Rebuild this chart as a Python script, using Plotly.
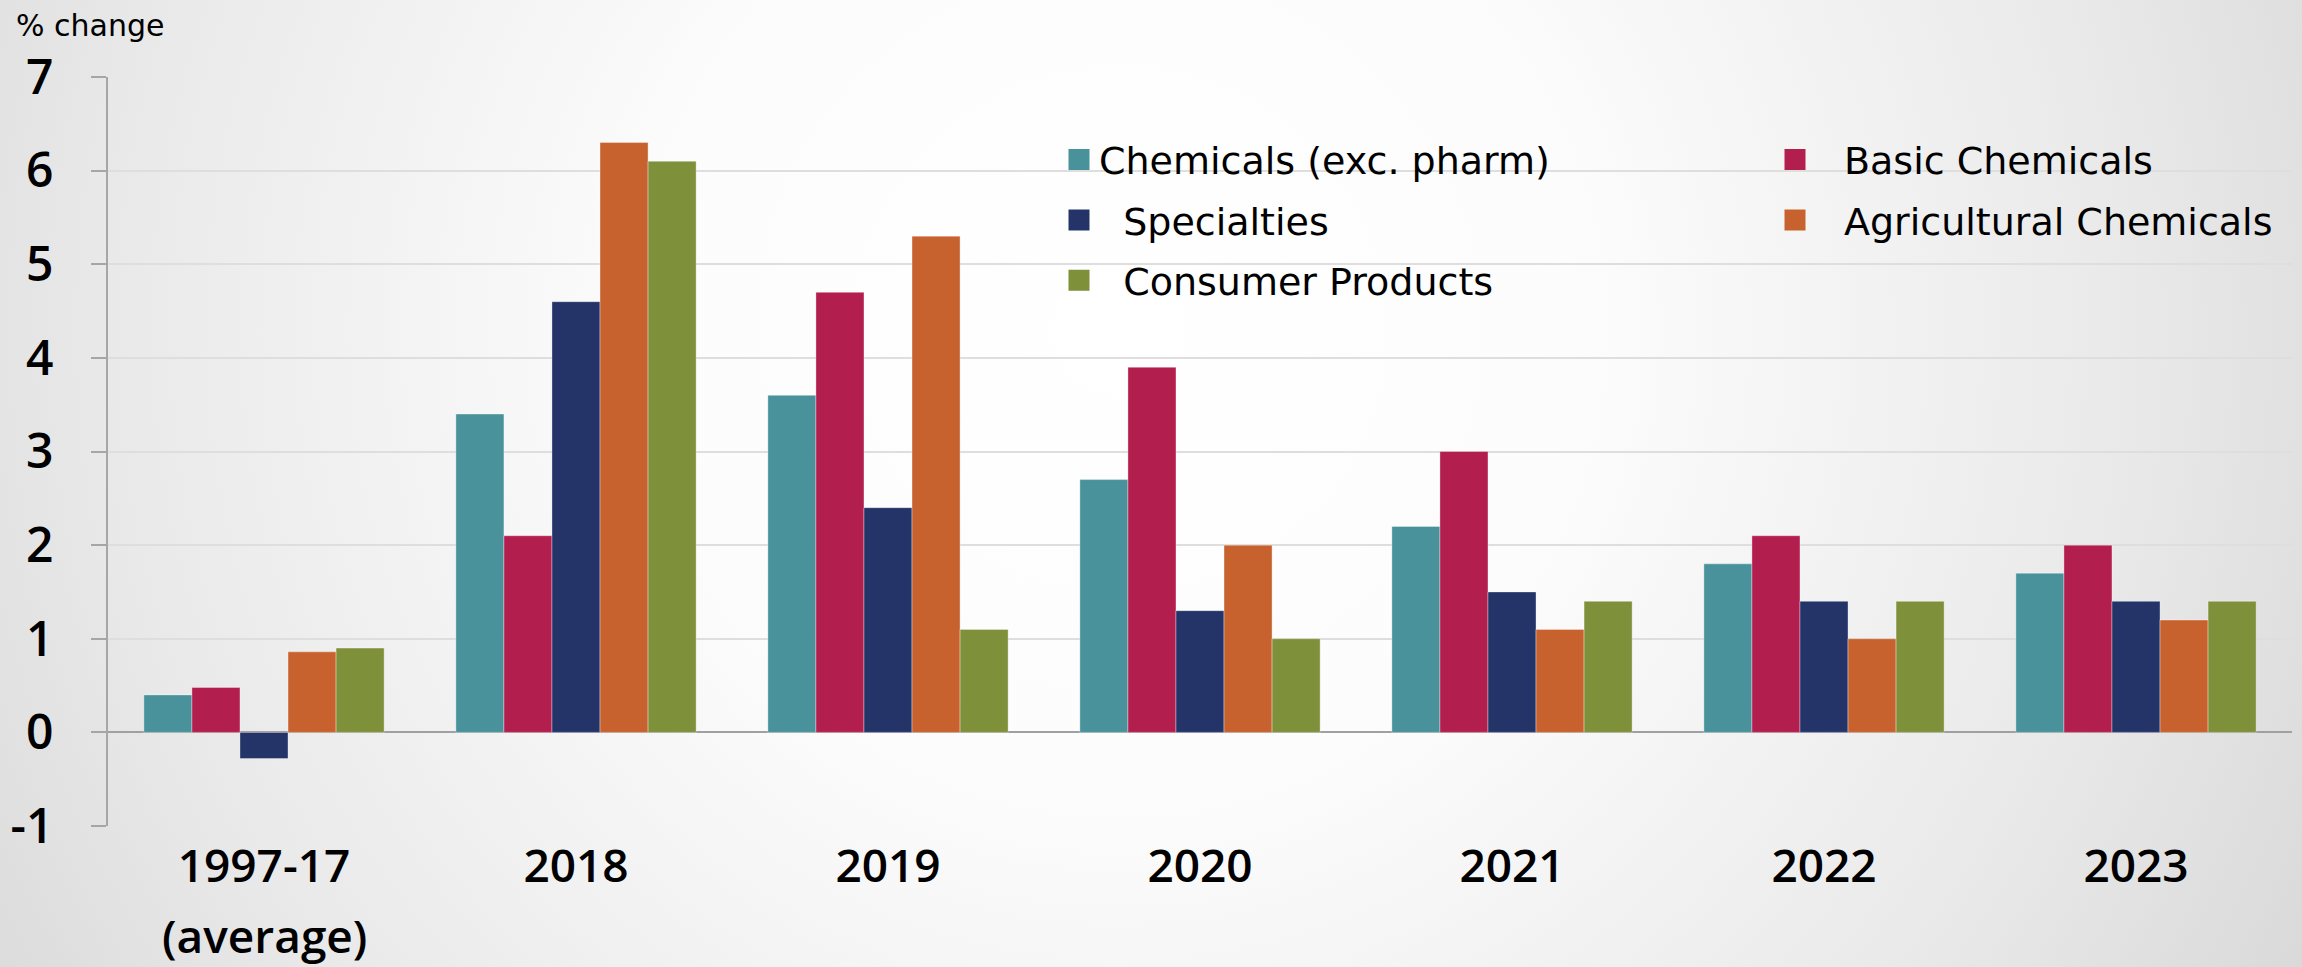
import base64
import plotly.graph_objects as go

# Categories and growth rates (% change)
categories = ["1997-17", "2018", "2019", "2020", "2021", "2022", "2023"]
first_category_note = "(average)"
chemicals_exc_pharm = [0.40, 3.4, 3.6, 2.7, 2.2, 1.8, 1.7]
basic_chemicals = [0.48, 2.1, 4.7, 3.9, 3.0, 2.1, 2.0]
specialties = [-0.28, 4.6, 2.4, 1.3, 1.5, 1.4, 1.4]
agricultural_chemicals = [0.86, 6.3, 5.3, 2.0, 1.1, 1.0, 1.2]
consumer_products = [0.90, 6.1, 1.1, 1.0, 1.4, 1.4, 1.4]

y_ticks = [-1, 0, 1, 2, 3, 4, 5, 6, 7]

W, H = 2302, 967
ML, MR, MT, MB = 108, 10, 77, 141
PW, PH = W - ML - MR, H - MT - MB

NBSP = "\u00a0"
series = [
    ("Chemicals (exc. pharm)", chemicals_exc_pharm, "#4A929B", "legend"),
    ("Basic Chemicals", basic_chemicals, "#B21E4E", "legend2"),
    (NBSP * 2 + "Specialties", specialties, "#253468", "legend"),
    ("Agricultural Chemicals", agricultural_chemicals, "#C7622E", "legend2"),
    (NBSP * 2 + "Consumer Products", consumer_products, "#7E903A", "legend"),
]

fig = go.Figure()
for i, (name, vals, color, leg) in enumerate(series):
    fig.add_trace(go.Bar(
        x=categories, y=vals, name=name.strip(NBSP),
        marker=dict(color=color, line=dict(color="rgba(255,255,255,0.35)", width=1)),
        legendgroup=f"g{i}", showlegend=False,
    ))
# legend keys: larger square swatches than the default bar key
for i, (name, vals, color, leg) in enumerate(series):
    fig.add_trace(go.Scatter(
        x=[None], y=[None], mode="markers", name=name,
        marker=dict(symbol="square", size=16, color=color, line=dict(color=color, width=5)),
        legend=leg, legendgroup=f"g{i}", hoverinfo="skip",
    ))

# soft radial backdrop
svg = f'''<svg xmlns="http://www.w3.org/2000/svg" width="{W}" height="{H}">
<defs><radialGradient id="g" gradientUnits="userSpaceOnUse" cx="1120" cy="330" r="1350">
<stop offset="0" stop-color="#ffffff"/><stop offset="0.35" stop-color="#fcfcfc"/>
<stop offset="0.75" stop-color="#e9e9e9"/><stop offset="1" stop-color="#d9d9d9"/>
</radialGradient></defs><rect width="{W}" height="{H}" fill="url(#g)"/></svg>'''
bg = "data:image/svg+xml;base64," + base64.b64encode(svg.encode()).decode()

fig.add_layout_image(dict(
    source=bg, xref="paper", yref="paper",
    x=-ML / PW, y=1 + MT / PH, sizex=W / PW, sizey=H / PH,
    xanchor="left", yanchor="top", sizing="stretch", layer="below",
))

tick_font = dict(family="Open Sans", size=46, color="#000000", weight=600)
legend_font = dict(family="DejaVu Sans", size=38, color="#000000")
legend_common = dict(
    y=(825.7 - 128) / PH, xanchor="left", yanchor="top",
    bgcolor="rgba(0,0,0,0)", font=legend_font,
    tracegroupgap=8, traceorder="grouped",
)
fig.update_layout(
    width=W, height=H,
    margin=dict(l=ML, r=MR, t=MT, b=MB, autoexpand=False),
    paper_bgcolor="#ffffff", plot_bgcolor="rgba(0,0,0,0)",
    barmode="group", bargap=0.23, bargroupgap=0,
    showlegend=True,
    legend=dict(x=(1059 - ML) / PW, itemwidth=30, **legend_common),
    legend2=dict(x=(1746 - ML) / PW, itemwidth=88, **legend_common),
    xaxis=dict(
        showline=False, showgrid=False, ticks="", automargin=False,
        tickfont=tick_font, ticklabelstandoff=9,
    ),
    yaxis=dict(
        range=[-1, 7], tickvals=y_ticks, ticktext=[str(v) for v in y_ticks],
        automargin=False,
        showline=True, linecolor="#a6a6a6", linewidth=2,
        ticks="outside", ticklen=15, tickcolor="#a6a6a6", tickwidth=2,
        showgrid=True, gridcolor="#dedede", gridwidth=2,
        zeroline=True, zerolinecolor="#a0a0a0", zerolinewidth=2,
        tickfont=dict(family="Open Sans", size=48, color="#000000", weight=600),
        ticklabelstandoff=28,
    ),
    annotations=[
        dict(
            text="% change", xref="paper", yref="paper",
            x=(14 - ML) / PW, y=(825.7 - 25) / PH, xanchor="left", yanchor="middle",
            showarrow=False, font=dict(family="DejaVu Sans", size=30, color="#000000"),
        ),
        # second line of the first category label
        dict(
            text=first_category_note, xref="x", yref="paper",
            x=categories[0], y=(825.7 - 967) / PH, xanchor="center", yanchor="bottom",
            showarrow=False, borderpad=0, font=tick_font,
        ),
    ],
)

fig.write_html("out.html")
